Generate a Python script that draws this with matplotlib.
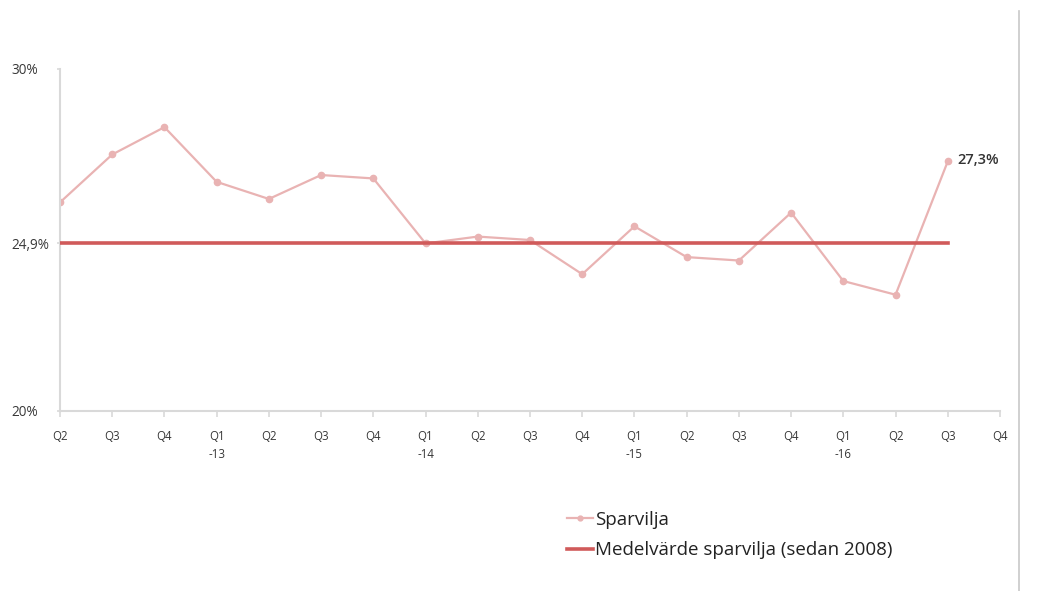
import matplotlib
matplotlib.use('Agg')
import matplotlib.pyplot as plt
from matplotlib.lines import Line2D

# quarter labels on the x axis
quarters = ['Q2', 'Q3', 'Q4', 'Q1\n-13', 'Q2', 'Q3', 'Q4', 'Q1\n-14', 'Q2', 'Q3',
            'Q4', 'Q1\n-15', 'Q2', 'Q3', 'Q4', 'Q1\n-16', 'Q2', 'Q3', 'Q4']

# sparvilja per quarter (%)
sparvilja = [26.1, 27.5, 28.3, 26.7, 26.2, 26.9, 26.8, 24.9, 25.1, 25.0,
             24.0, 25.4, 24.5, 24.4, 25.8, 23.8, 23.4, 27.3]

mean_value = 24.9
y_ticks = [20, 24.9, 30]
y_tick_labels = ['20%', '24,9%', '30%']

pink = '#E9B3B3'
red = '#D05A5A'
grey_txt = '#383838'
axis_col = '#D9D9D9'

plt.rcParams['font.family'] = ['Open Sans', 'DejaVu Sans']

fig = plt.figure(figsize=(10.4, 5.91), dpi=100)
ax = fig.add_axes([60 / 1040, 180 / 591, 940 / 1040, 342 / 591])

x = list(range(len(sparvilja)))
ax.plot(x, sparvilja, color=pink, lw=1.6, marker='o', ms=4.5, zorder=2)
ax.plot([x[0], x[-1]], [mean_value, mean_value], color=red, lw=2.6, zorder=3)

ax.annotate('27,3%', (x[-1], sparvilja[-1]), xytext=(7, 1), textcoords='offset points',
            fontsize=10.5, color='#333333', fontweight='semibold', va='center', ha='left')

ax.set_xlim(0, len(quarters) - 1)
ax.set_ylim(20, 30)
ax.set_xticks(range(len(quarters)))
ax.set_xticklabels(quarters, fontsize=8.3, color=grey_txt, linespacing=1.45)
ax.set_yticks(y_ticks)
ax.set_yticklabels(y_tick_labels, fontsize=9.8, color=grey_txt)
for lab in ax.get_yticklabels():
    lab.set_horizontalalignment('left')

for s in ['top', 'right']:
    ax.spines[s].set_visible(False)
for s in ['left', 'bottom']:
    ax.spines[s].set_color(axis_col)
    ax.spines[s].set_linewidth(1.5)
ax.tick_params(axis='x', length=4, color=axis_col, width=1.2, pad=10)
ax.tick_params(axis='y', length=2, color=axis_col, width=1.2, pad=33.3)

# legend
handles = [Line2D([], [], color=pink, lw=1.6, marker='o', ms=3.5),
           Line2D([], [], color=red, lw=2.6)]
fig.legend(handles, ['Sparvilja', 'Medelvärde sparvilja (sedan 2008)'],
           loc='upper left', bbox_to_anchor=(550 / 1040, 1 - 494 / 591),
           frameon=False, fontsize=13.5, handlelength=1.4, handletextpad=0.1,
           labelspacing=0.65, labelcolor='#222222')

# thin frame line at the right edge
fig.add_artist(Line2D([1019 / 1040, 1019 / 1040], [0, 1 - 11 / 591],
                      transform=fig.transFigure, color='#C8C8C8', lw=1.2))

fig.savefig('out.png', dpi=100)
